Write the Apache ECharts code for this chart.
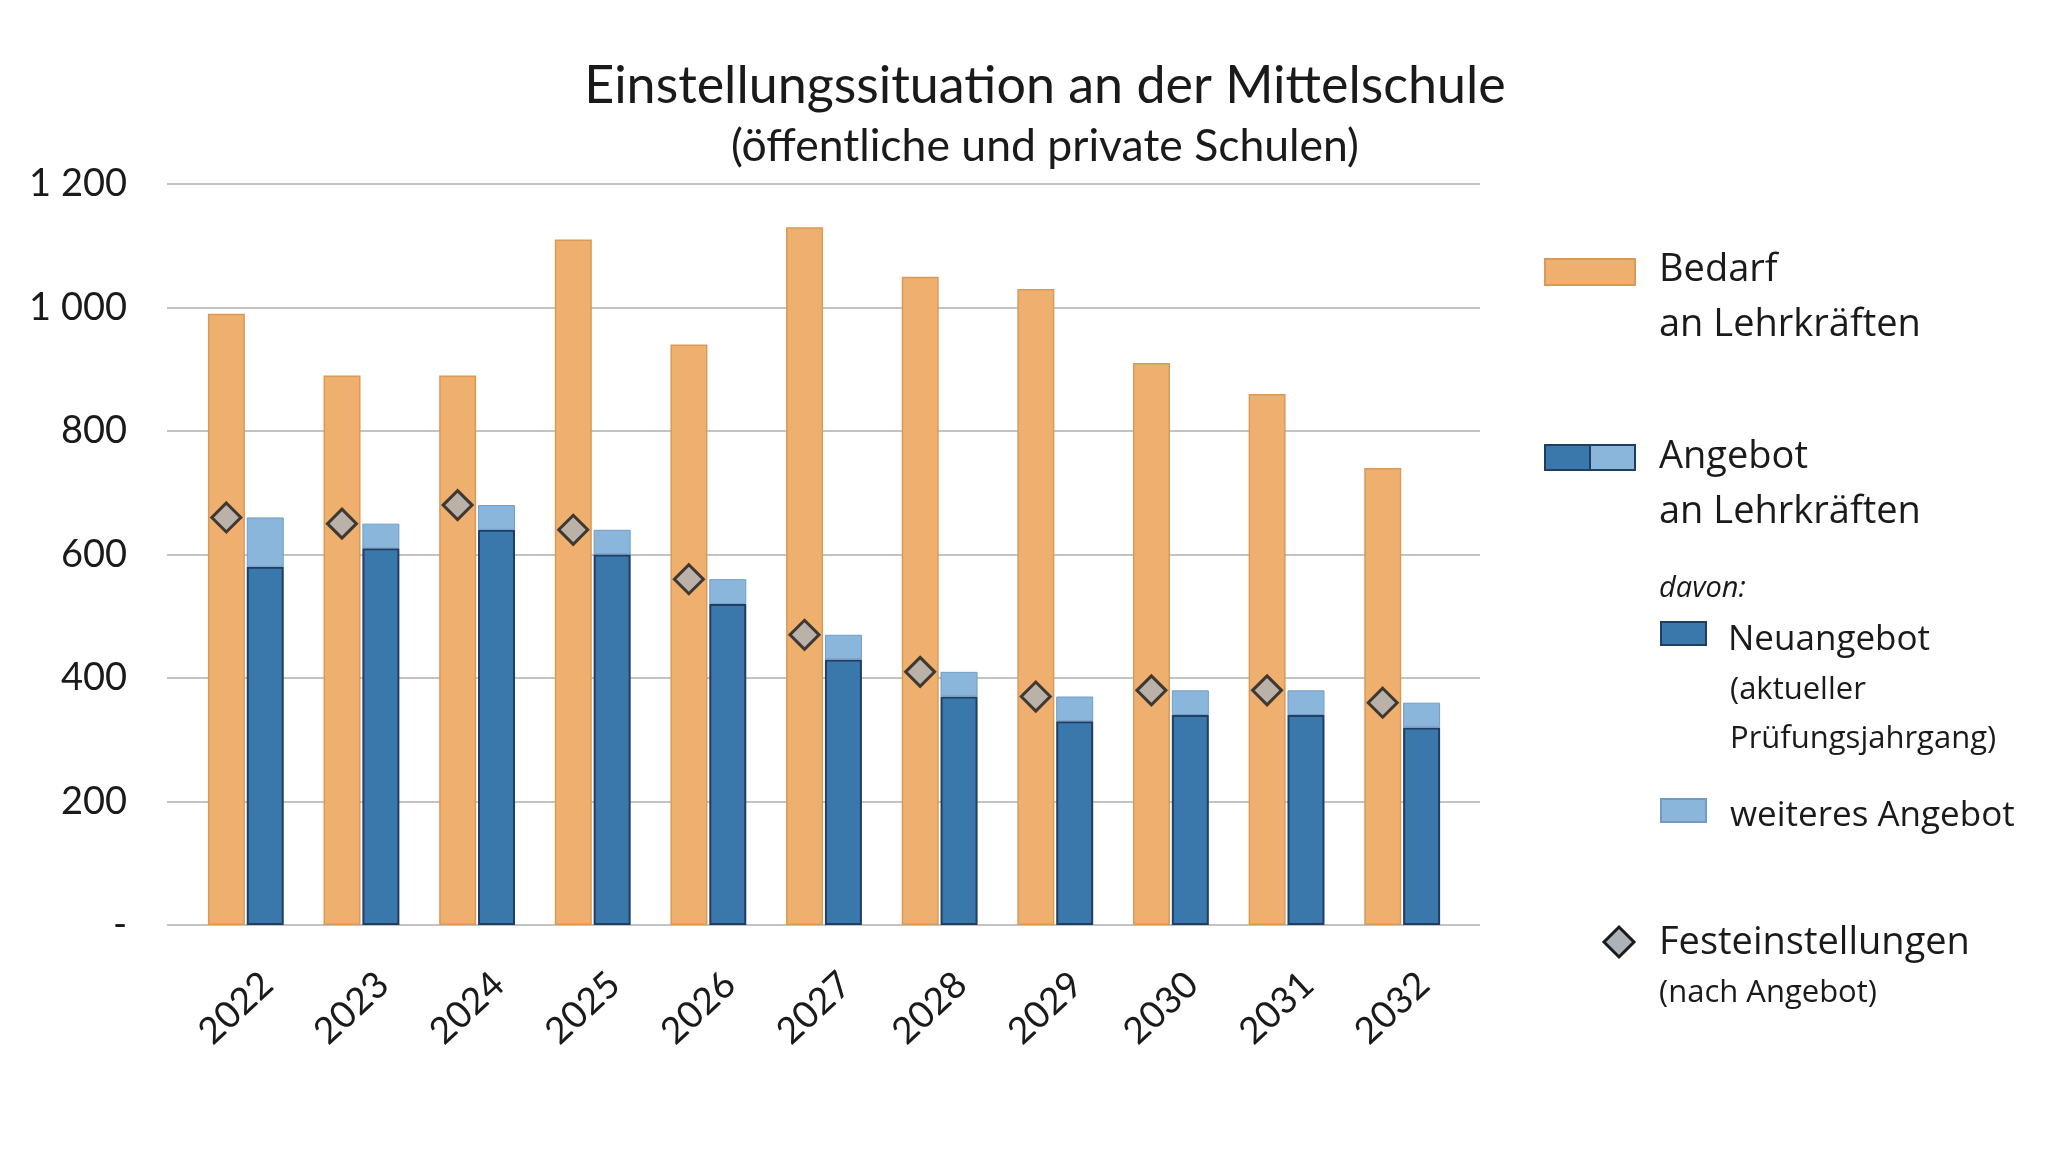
<!DOCTYPE html>
<html>
<head>
<meta charset="utf-8">
<script src="https://cdn.jsdelivr.net/npm/echarts@6/dist/echarts.min.js"></script>
<style>html,body{margin:0;padding:0;background:#fff}#c{width:2048px;height:1153px}</style>
</head>
<body>
<div id="c"></div>
<script>
const years = ['2022','2023','2024','2025','2026','2027','2028','2029','2030','2031','2032'];
const bedarf = [990, 890, 890, 1110, 940, 1130, 1050, 1030, 910, 860, 740];
const neuangebot = [580, 610, 640, 600, 520, 430, 370, 330, 340, 340, 320];
const weiteres = [80, 40, 40, 40, 40, 40, 40, 40, 40, 40, 40];
const festeinstellungen = [660, 650, 680, 640, 560, 470, 410, 370, 380, 380, 360];
const yTicks = [0, 200, 400, 600, 800, 1000, 1200];

const ORANGE = '#efb06f', ORANGE_B = '#d99a58';
const DARK = '#3a77ab', DARK_B = '#1e3e63';
const LIGHT = '#8bb6dc', LIGHT_B = '#6f9cc4';
const FONT = 'Lato';

const chart = echarts.init(document.getElementById('c'), null, {renderer: 'canvas'});
const fmtY = v => v === 0 ? '-' : String(v).replace(/\B(?=(\d{3})+(?!\d))/g, ' ');

const LX = 1659;
function t(x, y, s, font) {
  return {type: 'text', x: x, y: y, style: {text: s, font: font, fill: '#1a1a1a', verticalAlign: 'middle'}};
}
const graphics = [
  {type: 'rect', shape: {x: 1545, y: 259, width: 90, height: 26}, style: {fill: ORANGE, stroke: ORANGE_B, lineWidth: 2}},
  {type: 'rect', shape: {x: 1545, y: 445, width: 45, height: 25}, style: {fill: DARK, stroke: DARK_B, lineWidth: 2}},
  {type: 'rect', shape: {x: 1590, y: 445, width: 45, height: 25}, style: {fill: LIGHT, stroke: DARK_B, lineWidth: 2}},
  {type: 'rect', shape: {x: 1661, y: 622, width: 45, height: 23}, style: {fill: DARK, stroke: DARK_B, lineWidth: 2}},
  {type: 'rect', shape: {x: 1661, y: 799, width: 45, height: 23}, style: {fill: LIGHT, stroke: LIGHT_B, lineWidth: 2}},
  {type: 'polygon', shape: {points: [[1619, 927], [1634, 942], [1619, 957], [1604, 942]]}, style: {fill: '#adb1b8', stroke: '#1a1a1a', lineWidth: 3}},
  t(LX, 270, 'Bedarf', '38px "Open Sans"'),
  t(LX, 325, 'an Lehrkräften', '38px "Open Sans"'),
  t(LX, 457, 'Angebot', '38px "Open Sans"'),
  t(LX, 512, 'an Lehrkräften', '38px "Open Sans"'),
  t(LX, 589, 'davon:', 'italic 29px "Open Sans"'),
  t(1728, 640, 'Neuangebot', '35px "Open Sans"'),
  t(1730, 690, '(aktueller', '31px "Open Sans"'),
  t(1730, 739, 'Prüfungsjahrgang)', '31px "Open Sans"'),
  t(1730, 816, 'weiteres Angebot', '35px "Open Sans"'),
  t(LX, 943, 'Festeinstellungen', '38px "Open Sans"'),
  t(LX, 993, '(nach Angebot)', '31px "Open Sans"')
];

const option = {
  backgroundColor: '#fff',
  animation: false,
  title: [
    {text: 'Einstellungssituation an der Mittelschule', left: 1040, top: 81, textAlign: 'center', textVerticalAlign: 'middle',
     textStyle: {fontFamily: FONT, fontWeight: 'normal', fontSize: 52, color: '#1a1a1a'}},
    {text: '(öffentliche und private Schulen)', left: 1040, top: 142, textAlign: 'center', textVerticalAlign: 'middle',
     textStyle: {fontFamily: FONT, fontWeight: 'normal', fontSize: 44.5, color: '#1a1a1a'}}
  ],
  grid: [
    {left: 167, right: 568, top: 184, bottom: 228},
    {left: 188, right: 588, top: 184, bottom: 228}
  ],
  xAxis: [
    {type: 'category', gridIndex: 0, data: years, show: false},
    {type: 'category', gridIndex: 1, data: years,
     axisLine: {show: false}, axisTick: {show: false},
     axisLabel: {rotate: 43, align: 'center', verticalAlign: 'middle', margin: 74, padding: [0, 27, 0, 0],
                 fontFamily: FONT, fontSize: 37, color: '#1a1a1a'}}
  ],
  yAxis: [
    {type: 'value', gridIndex: 0, min: 0, max: 1200, interval: 200,
     axisLine: {show: false}, axisTick: {show: false},
     splitLine: {show: true, lineStyle: {color: '#c3c3c3', width: 2}},
     axisLabel: {formatter: fmtY, margin: 40, fontFamily: FONT, fontSize: 38, color: '#1a1a1a'}},
    {type: 'value', gridIndex: 1, min: 0, max: 1200, interval: 200, show: false, splitLine: {show: false}}
  ],
  series: [
    {name: 'Bedarf', type: 'bar', xAxisIndex: 1, yAxisIndex: 1, data: bedarf, barWidth: 37, barGap: '5%',
     itemStyle: {color: ORANGE, borderColor: ORANGE_B, borderWidth: 1.5}},
    {name: 'Neuangebot', type: 'bar', xAxisIndex: 1, yAxisIndex: 1, stack: 'angebot', data: neuangebot, barWidth: 37, barGap: '5%',
     itemStyle: {color: DARK, borderColor: DARK_B, borderWidth: 2}},
    {name: 'weiteres Angebot', type: 'bar', xAxisIndex: 1, yAxisIndex: 1, stack: 'angebot', data: weiteres, barWidth: 37, barGap: '5%',
     itemStyle: {color: LIGHT, borderColor: LIGHT_B, borderWidth: 1}},
    {name: 'Festeinstellungen', type: 'scatter', xAxisIndex: 1, yAxisIndex: 1, data: festeinstellungen, z: 5,
     symbol: 'diamond', symbolSize: 29, symbolOffset: [-19.5, 0],
     itemStyle: {color: '#adb1b8', borderColor: '#1a1a1a', borderWidth: 3}}
  ],
  graphic: graphics
};
chart.setOption(option);
</script>
</body>
</html>
